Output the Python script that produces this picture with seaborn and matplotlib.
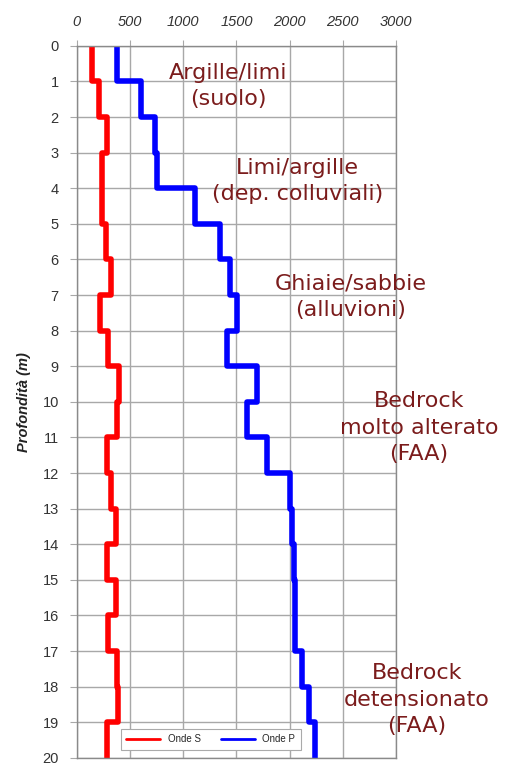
import pandas as pd
import matplotlib
matplotlib.use("Agg")
import matplotlib.pyplot as plt
import seaborn as sns

# layer tops (m), one value per 1 m layer
depth_top = list(range(0, 20))
vs = [140, 210, 279, 232, 241, 270, 320, 222, 295, 395,
      379, 279, 317, 367, 279, 364, 295, 373, 388, 279]
vp = [380, 602, 733, 758, 1109, 1350, 1438, 1510, 1416, 1695,
      1595, 1783, 2002, 2018, 2040, 2047, 2050, 2118, 2184, 2237]

labels = ["Argille/limi\n(suolo)",
          "Limi/argille\n(dep. colluviali)",
          "Ghiaie/sabbie\n(alluvioni)",
          "Bedrock\nmolto alterato\n(FAA)",
          "Bedrock\ndetensionato\n(FAA)"]
label_x = [1420, 2077, 2576, 3215, 3196]
label_y = [1.12, 3.79, 7.05, 10.73, 18.37]

# step profile: each layer contributes its top and bottom point
rows = []
for name, vals in [("Onde S", vs), ("Onde P", vp)]:
    for d, v in zip(depth_top, vals):
        rows.append({"wave": name, "vel": v, "depth": d})
        rows.append({"wave": name, "vel": v, "depth": d + 1})
df = pd.DataFrame(rows)

sns.set_style("white")
plt.rcParams["font.family"] = ["Liberation Sans", "DejaVu Sans"]

fig = plt.figure(figsize=(5.09, 7.64), dpi=100)
ax = fig.add_axes([0.151, 0.008, 0.627, 0.932])

sns.lineplot(data=df, x="vel", y="depth", hue="wave", sort=False, estimator=None,
             palette={"Onde S": "#ff0000", "Onde P": "#0000ff"}, linewidth=4,
             ax=ax, legend=False)
for line in ax.lines:
    line.set_solid_joinstyle("round")
    line.set_solid_capstyle("butt")

ax.set_xlim(0, 3000)
ax.set_ylim(20, 0)
ax.set_xticks(range(0, 3001, 500))
ax.set_yticks(range(0, 21))
ax.xaxis.tick_top()
ax.grid(True, color="#a8a8a8", linewidth=1)
ax.tick_params(axis="x", which="both", top=True, bottom=False, length=4,
               color="#a8a8a8", labelsize=10.5, labelcolor="#333333", pad=8)
ax.tick_params(axis="y", left=True, length=5, color="#a8a8a8",
               labelsize=10.5, labelcolor="#333333", pad=8)
for t in ax.get_xticklabels():
    t.set_fontstyle("italic")
for s in ax.spines.values():
    s.set_color("#8a8a8a")
    s.set_linewidth(1)
ax.set_xlabel("")
ax.set_ylabel("Profondità (m)", fontsize=10.5, fontweight="bold", fontstyle="italic",
              color="#222222", labelpad=8)

for txt, x, y in zip(labels, label_x, label_y):
    ax.text(x, y, txt, ha="center", va="center", fontsize=16, color="#7b1c1c",
            family="DejaVu Sans", linespacing=1.4, clip_on=False)

h_s = plt.Line2D([], [], color="#ff0000", linewidth=2)
h_p = plt.Line2D([], [], color="#0000ff", linewidth=2)
leg = ax.legend([h_s, h_p], ["Onde S", "Onde P"], loc="center",
                bbox_to_anchor=(0.42, 0.026), ncol=2, fontsize=7, frameon=True,
                fancybox=False, edgecolor="#aaaaaa", framealpha=1,
                handlelength=3.5, columnspacing=2, borderpad=0.6)
leg.get_frame().set_linewidth(0.8)

fig.savefig("out.png", dpi=100)
